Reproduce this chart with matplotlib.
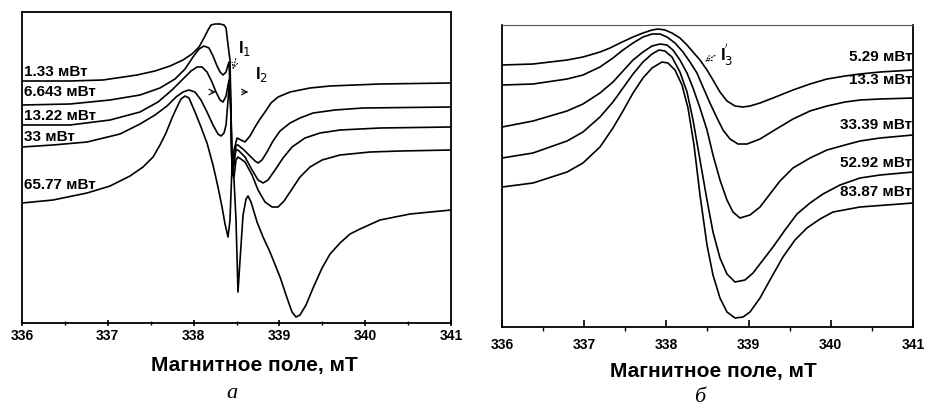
import matplotlib
matplotlib.use('Agg')
import matplotlib.pyplot as plt

# panel a: field (mT) and intensity (arb. units) for each microwave power
a_labels = ['1.33 мВт', '6.643 мВт', '13.22 мВт', '33 мВт', '65.77 мВт']

a1_field = [336.000, 336.559, 336.944, 337.340, 337.550, 337.725, 337.876, 337.981, 338.063, 338.121,
            338.168, 338.203, 338.249, 338.308, 338.354, 338.378, 338.401, 338.424, 338.448, 338.471,
            338.506, 338.552, 338.599, 338.657, 338.716, 338.774, 338.832, 338.902, 338.984, 339.124,
            339.357, 339.590, 340.172, 341.000]
a1_int = [242, 242, 243, 248, 252, 257, 263, 269, 276, 285,
          293, 298, 299, 299, 298, 295, 278, 263, 155, 173,
          185, 183, 181, 187, 196, 204, 211, 220, 226, 231,
          235, 237, 239, 240]

a2_field = [336.000, 336.559, 337.026, 337.375, 337.608, 337.783, 337.900, 337.993, 338.063, 338.121,
            338.179, 338.226, 338.273, 338.308, 338.343, 338.378, 338.401, 338.413, 338.436, 338.448,
            338.471, 338.494, 338.517, 338.587, 338.657, 338.716, 338.751, 338.797, 338.855, 338.925,
            339.007, 339.124, 339.240, 339.392, 339.648, 339.974, 341.000]
a2_int = [218, 219, 223, 228, 235, 244, 254, 266, 274, 277,
          275, 267, 257, 251, 248, 251, 258, 261, 203, 151,
          158, 178, 178, 173, 167, 162, 160, 163, 171, 182,
          192, 200, 205, 210, 213, 215, 216]

a3_field = [336.000, 336.559, 337.026, 337.375, 337.585, 337.748, 337.876, 337.970, 338.040, 338.098,
            338.156, 338.214, 338.261, 338.308, 338.343, 338.378, 338.401, 338.413, 338.436, 338.448,
            338.471, 338.494, 338.517, 338.599, 338.681, 338.751, 338.809, 338.867, 338.949, 339.042,
            339.147, 339.298, 339.473, 339.706, 340.172, 341.000]
a3_int = [198, 198, 203, 211, 221, 233, 244, 252, 256, 256,
          251, 241, 231, 223, 221, 227, 238, 243, 213, 148,
          163, 173, 173, 166, 153, 143, 140, 143, 153, 165,
          176, 185, 190, 193, 195, 196]

a4_field = [336.000, 336.361, 336.758, 337.142, 337.375, 337.550, 337.690, 337.795, 337.876, 337.946,
            338.016, 338.086, 338.156, 338.226, 338.284, 338.319, 338.354, 338.378, 338.401, 338.424,
            338.448, 338.471, 338.494, 338.517, 338.599, 338.681, 338.751, 338.832, 338.914, 338.984,
            339.054, 339.147, 339.240, 339.357, 339.497, 339.706, 340.056, 340.406, 341.000]
a4_int = [176, 178, 181, 189, 199, 208, 217, 226, 231, 233,
          231, 223, 211, 198, 189, 187, 190, 198, 223, 248,
          153, 146, 163, 166, 161, 148, 133, 121, 116, 116,
          122, 134, 146, 156, 163, 168, 171, 172, 173]

a5_field = [336.000, 336.361, 336.758, 337.026, 337.259, 337.410, 337.527, 337.608, 337.678, 337.748,
            337.807, 337.853, 337.900, 337.946, 338.016, 338.086, 338.156, 338.226, 338.284, 338.331,
            338.366, 338.401, 338.424, 338.448, 338.471, 338.494, 338.517, 338.541, 338.576, 338.611,
            338.634, 338.669, 338.739, 338.809, 338.890, 339.007, 339.089, 339.147, 339.193, 339.240,
            339.310, 339.392, 339.497, 339.590, 339.706, 339.823, 339.939, 340.172, 340.522, 341.000]
a5_int = [120, 123, 130, 137, 147, 156, 166, 178, 190, 205,
          216, 224, 227, 225, 211, 196, 180, 158, 136, 116,
          99, 86, 103, 158, 143, 103, 31, 63, 108, 124,
          127, 121, 101, 86, 71, 46, 25, 11, 6, 8,
          18, 35, 55, 69, 80, 89, 94, 103, 109, 113]

# panel b
b_labels = ['5.29 мВт', '13.3 мВт', '33.39 мВт', '52.92 мВт', '83.87 мВт']

b1_field = [336.000, 336.377, 336.791, 336.985, 337.192, 337.314, 337.436, 337.594, 337.715, 337.825,
            337.898, 337.983, 338.068, 338.165, 338.251, 338.324, 338.409, 338.494, 338.567, 338.652,
            338.737, 338.835, 338.932, 339.017, 339.139, 339.297, 339.540, 339.747, 339.954, 340.173,
            340.355, 340.599, 341.000]
b1_int = [262, 263, 267, 270, 275, 279, 284, 290, 294, 297,
          298, 297, 294, 289, 282, 275, 267, 257, 247, 235,
          226, 221, 220, 221, 224, 229, 237, 243, 248, 251,
          253, 255, 257]

b2_field = [336.000, 336.377, 336.791, 336.985, 337.192, 337.350, 337.472, 337.594, 337.715, 337.825,
            337.922, 338.007, 338.105, 338.202, 338.287, 338.372, 338.445, 338.530, 338.616, 338.689,
            338.774, 338.871, 338.981, 339.139, 339.297, 339.540, 339.747, 339.954, 340.173, 340.355,
            340.599, 341.000]
b2_int = [242, 243, 248, 252, 260, 269, 277, 284, 290, 293,
          293, 290, 284, 275, 265, 254, 240, 224, 209, 197,
          188, 183, 183, 188, 196, 208, 216, 221, 225, 227,
          228, 229]

b3_field = [336.000, 336.377, 336.791, 336.985, 337.192, 337.350, 337.472, 337.594, 337.715, 337.825,
            337.922, 338.007, 338.080, 338.165, 338.251, 338.324, 338.409, 338.494, 338.567, 338.652,
            338.737, 338.810, 338.895, 339.017, 339.139, 339.260, 339.382, 339.540, 339.747, 339.954,
            340.173, 340.355, 340.599, 341.000]
b3_int = [200, 206, 216, 223, 234, 245, 256, 267, 275, 281,
          283, 282, 277, 267, 254, 239, 219, 197, 172, 147,
          127, 115, 109, 112, 120, 133, 146, 159, 169, 177,
          182, 186, 189, 192]

b4_field = [336.000, 336.377, 336.791, 336.985, 337.192, 337.350, 337.472, 337.594, 337.715, 337.825,
            337.910, 337.983, 338.068, 338.165, 338.251, 338.324, 338.409, 338.494, 338.567, 338.652,
            338.737, 338.835, 338.956, 339.054, 339.175, 339.297, 339.443, 339.589, 339.747, 339.905,
            340.112, 340.355, 340.599, 341.000]
b4_int = [169, 174, 186, 195, 210, 225, 239, 253, 265, 273,
          277, 276, 270, 255, 235, 207, 167, 127, 95, 69,
          53, 45, 47, 54, 67, 80, 97, 113, 124, 133,
          142, 149, 152, 155]

b5_field = [336.000, 336.377, 336.791, 336.985, 337.192, 337.350, 337.472, 337.594, 337.715, 337.825,
            337.946, 338.019, 338.105, 338.190, 338.263, 338.336, 338.409, 338.494, 338.567, 338.652,
            338.737, 338.835, 338.932, 339.017, 339.139, 339.260, 339.418, 339.564, 339.710, 339.869,
            340.027, 340.355, 341.000]
b5_int = [140, 144, 155, 164, 180, 199, 216, 234, 249, 259,
          265, 264, 257, 242, 219, 182, 132, 82, 52, 29,
          15, 9, 10, 15, 29, 47, 70, 87, 99, 108,
          115, 120, 124]

xticks = [336, 337, 338, 339, 340, 341]

# where the power labels sit (intensity units)
a_label_y = [251, 231, 207, 186, 138]
b_label_y = [270, 247, 202, 164, 135]


def style_axis(ax, major_dir, minor_dir, pad):
    ax.set_xlim(336, 341)
    ax.set_xticks(xticks)
    ax.set_xticks([336.5, 337.5, 338.5, 339.5, 340.5], minor=True)
    ax.set_xticklabels([str(t) for t in xticks])
    ax.set_yticks([])
    ax.tick_params(axis='x', which='major', direction=major_dir, length=5, width=1.2,
                   pad=pad, labelsize=10)
    ax.tick_params(axis='x', which='minor', direction=minor_dir, length=3, width=1.0)
    for lab in ax.get_xticklabels():
        lab.set_fontweight('bold')
    for s in ax.spines.values():
        s.set_linewidth(1.3)


def main():
    plt.rcParams['font.family'] = ['Liberation Sans', 'DejaVu Sans']
    fig = plt.figure(figsize=(9.25, 4.08), dpi=100)

    #panel a
    ax1 = fig.add_axes([0.0238, 0.2083, 0.4638, 0.7623])
    a_curves = [(a1_field, a1_int), (a2_field, a2_int), (a3_field, a3_int),
                (a4_field, a4_int), (a5_field, a5_int)]
    for (f, v) in a_curves:
        ax1.plot(f, v, color='black', lw=1.2)
    ax1.set_ylim(0, 311)
    style_axis(ax1, 'inout', 'inout', 2)
    for lab, y in zip(a_labels, a_label_y):
        ax1.text(336.02, y, lab, ha='left', va='center', fontsize=11, fontweight='bold')

    # line width marks
    ax1.annotate('', xy=(338.45, 251), xytext=(338.50, 267),
                 arrowprops=dict(arrowstyle='->', lw=0.8, linestyle=':', color='black'))
    ax1.text(338.52, 274, 'I$_1$', fontsize=12, fontweight='bold', ha='left', va='center')
    ax1.text(338.72, 248, 'I$_2$', fontsize=12, fontweight='bold', ha='left', va='center')
    ax1.annotate('', xy=(338.29, 231), xytext=(338.17, 231),
                 arrowprops=dict(arrowstyle='->', lw=0.8, color='black'))
    ax1.annotate('', xy=(338.67, 231), xytext=(338.53, 231),
                 arrowprops=dict(arrowstyle='->', lw=0.8, color='black'))

    #panel b
    ax2 = fig.add_axes([0.5427, 0.1985, 0.4443, 0.7402])
    b_curves = [(b1_field, b1_int), (b2_field, b2_int), (b3_field, b3_int),
                (b4_field, b4_int), (b5_field, b5_int)]
    for (f, v) in b_curves:
        ax2.plot(f, v, color='black', lw=1.2)
    ax2.set_ylim(0, 302)
    style_axis(ax2, 'in', 'out', 8)
    ax2.spines['top'].set_linewidth(0.8)
    ax2.spines['top'].set_color('#555555')
    for lab, y in zip(b_labels, b_label_y):
        ax2.text(340.99, y, lab, ha='right', va='center', fontsize=11, fontweight='bold')
    ax2.annotate('', xy=(338.44, 264), xytext=(338.62, 273),
                 arrowprops=dict(arrowstyle='->', lw=0.8, linestyle=':', color='black'))
    ax2.text(338.65, 272, "I$_3^{'}$", fontsize=12, fontweight='bold', ha='left', va='center')

    #axis titles and panel letters
    fig.text(254 / 925, 1 - 365 / 408, 'Магнитное поле, мТ', ha='center', va='center',
             fontsize=15, fontweight='bold')
    fig.text(713 / 925, 1 - 372 / 408, 'Магнитное поле, мТ', ha='center', va='center',
             fontsize=15, fontweight='bold')
    fig.text(232 / 925, 1 - 393 / 408, 'а', ha='center', va='center', fontsize=16,
             style='italic', family=['Liberation Serif', 'DejaVu Serif'])
    fig.text(700 / 925, 1 - 398 / 408, 'б', ha='center', va='center', fontsize=16,
             style='italic', family=['Liberation Serif', 'DejaVu Serif'])

    fig.savefig('out.png', dpi=100)


if __name__ == '__main__':
    main()
